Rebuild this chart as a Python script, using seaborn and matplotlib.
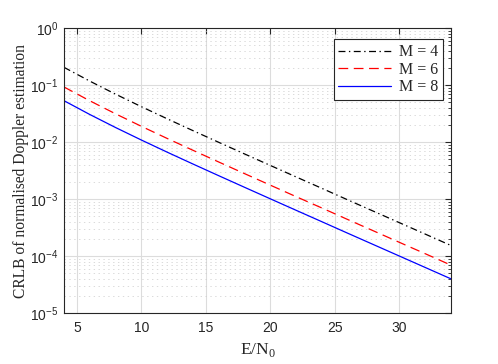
import numpy as np
import pandas as pd
import matplotlib
matplotlib.use('Agg')
import matplotlib.pyplot as plt
import matplotlib.ticker as mticker
import seaborn as sns

# values (E/N0 in dB)
ebn0 = [4, 6, 8, 10, 12, 14, 16, 18, 20, 22, 24, 26, 28, 30, 32, 34]
crlb_m4 = [0.2044, 0.1171, 0.0691, 0.0417, 0.02558, 0.01584, 0.00988, 0.00618,
           0.00388, 0.00244, 0.001538, 0.000967, 0.000610, 0.000385, 0.000243, 0.0001532]
crlb_m6 = [0.0924, 0.0529, 0.03125, 0.01886, 0.01156, 0.00716, 0.00446, 0.00279,
           0.00175, 0.00110, 0.000695, 0.000437, 0.000276, 0.000174, 0.000110, 0.0000693]
crlb_m8 = [0.0531, 0.03042, 0.01796, 0.01084, 0.006644, 0.004114, 0.002565, 0.001606,
           0.001008, 0.000634, 0.0003994, 0.0002512, 0.0001585, 0.0001, 0.0000631, 0.0000398]

labels = ['M = 4', 'M = 6', 'M = 8']
colors = ['black', '#ff0000', '#0000ff']
styles = [(0, (5, 2.5, 1, 2.5)), (0, (7, 4)), '-']

sns.set_style('white')
plt.rcParams['font.family'] = ['Liberation Sans', 'DejaVu Sans']
plt.rcParams['mathtext.fontset'] = 'custom'
plt.rcParams['mathtext.rm'] = 'Liberation Serif'
plt.rcParams['mathtext.sf'] = 'Liberation Sans'
plt.rcParams['lines.scale_dashes'] = False

fig = plt.figure(figsize=(4.98, 3.64), dpi=100)
ax = fig.add_axes([0.1285, 0.14, 0.777, 0.783])

for vals, lab, col, ls in zip([crlb_m4, crlb_m6, crlb_m8], labels, colors, styles):
    sns.lineplot(x=ebn0, y=vals, ax=ax, color=col, linestyle=ls, linewidth=0.9, label=lab)

ax.set_yscale('log')
ax.set_xlim(4, 34)
ax.set_ylim(1e-5, 1)
ax.set_xticks([5, 10, 15, 20, 25, 30])
ax.yaxis.set_major_locator(mticker.LogLocator(base=10, numticks=10))
ax.yaxis.set_minor_locator(mticker.LogLocator(base=10, subs=np.arange(2, 10), numticks=20))
ax.yaxis.set_major_formatter(mticker.FuncFormatter(lambda v, p: r'$\mathsf{10^{%d}}$' % round(np.log10(v))))
ax.yaxis.set_minor_formatter(mticker.NullFormatter())

ax.grid(True, which='major', color='#dcdcdc', linewidth=0.8, linestyle='-')
ax.grid(True, which='minor', axis='y', color='#cccccc', linewidth=0.5, linestyle=(0, (1, 2.5)))
ax.set_axisbelow(True)

ax.tick_params(which='both', direction='in', top=True, right=True, labelsize=10, colors='#262626')
ax.tick_params(which='major', length=4, pad=4)
ax.tick_params(which='minor', length=2)
ax.tick_params(axis='x', which='major', pad=6)
for s in ax.spines.values():
    s.set_color('#262626')
    s.set_linewidth(0.8)

ax.set_xlabel(r'E/N$_0$', family='Liberation Serif', fontsize=12.5, color='#262626')
ax.set_ylabel('CRLB of normalised Doppler estimation', family='Liberation Serif', fontsize=11.2,
              color='#262626', labelpad=1)

leg = ax.legend(loc='upper right', prop={'family': 'Liberation Serif', 'size': 11.5},
                fancybox=False, edgecolor='#262626', framealpha=1,
                bbox_to_anchor=(0.98, 0.96), borderaxespad=0,
                handlelength=3.3, handletextpad=0.5, labelspacing=0.1, borderpad=0.3)
leg.get_frame().set_linewidth(0.8)

fig.savefig('out.png', dpi=100)
